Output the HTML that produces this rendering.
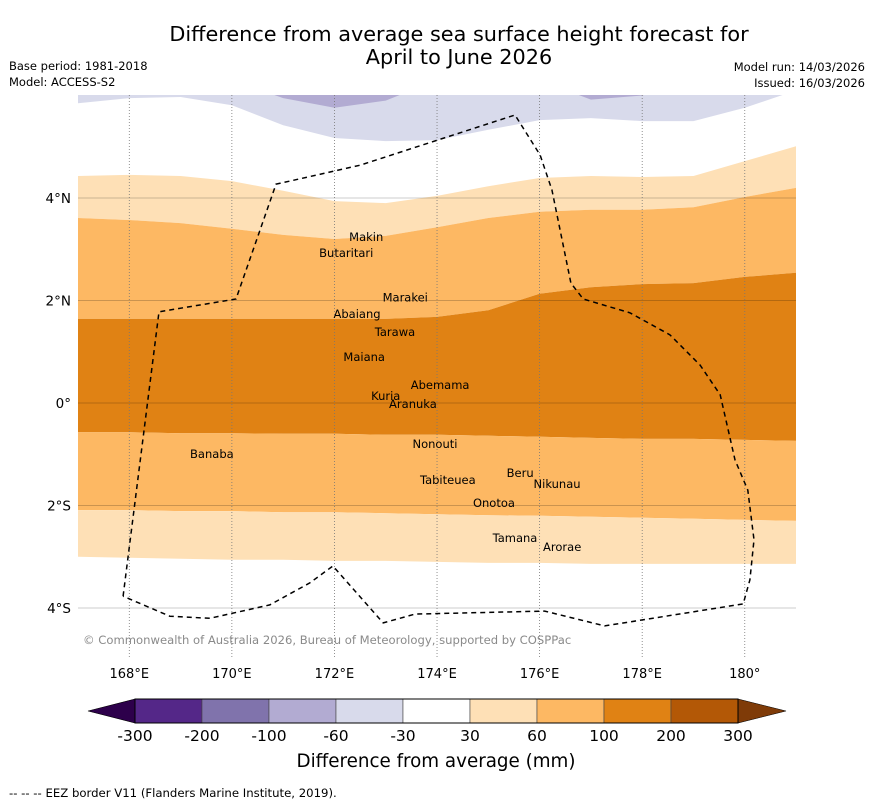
<!DOCTYPE html>
<html><head><meta charset="utf-8">
<style>
body{margin:0;background:#fff;}
svg{display:block;font-family:"DejaVu Sans","Liberation Sans",sans-serif;}
</style></head>
<body>
<svg id="chart" width="873" height="804" viewBox="0 0 873 804">
<text x="459" y="41" font-size="20.8" text-anchor="middle">Difference from average sea surface height forecast for</text>
<text x="459" y="64" font-size="20.8" text-anchor="middle">April to June 2026</text>
<text x="9" y="70" font-size="11.5">Base period: 1981-2018</text>
<text x="9" y="86" font-size="11.5">Model: ACCESS-S2</text>
<text x="865" y="71" font-size="11.5" text-anchor="end">Model run: 14/03/2026</text>
<text x="865" y="87" font-size="11.5" text-anchor="end">Issued: 16/03/2026</text>
<defs><clipPath id="mapclip"><rect x="78" y="95" width="718" height="562"/></clipPath></defs>
<g id="map" clip-path="url(#mapclip)"></g>
<g id="axes"></g>
<text x="83" y="644" font-size="11.6" fill="#8a8a8a">© Commonwealth of Australia 2026, Bureau of Meteorology, supported by COSPPac</text>
<g id="cbar"></g>
<text x="436" y="767" font-size="18.3" text-anchor="middle">Difference from average (mm)</text>
<text x="9" y="797" font-size="11.7">--  --  -- EEZ border V11 (Flanders Marine Institute, 2019).</text>
</svg>
<script>
// ---- data ----
const lons = [167,168,169,170,171,172,173,174,175,176,177,178,179,180,181];
const bPurple   = [6.3,6.3,6.3,6.3,5.95,5.76,5.9,6.3,6.3,6.3,5.92,6.0,6.3,6.3,6.3];
const bLavender = [5.85,5.95,5.97,5.81,5.42,5.17,5.11,5.13,5.33,5.52,5.56,5.50,5.50,5.76,6.1];
const b30  = [4.43,4.45,4.43,4.33,4.14,3.94,3.90,4.04,4.23,4.39,4.43,4.41,4.43,4.72,5.01];
const b60  = [3.61,3.57,3.51,3.40,3.28,3.20,3.26,3.43,3.61,3.73,3.77,3.77,3.82,4.02,4.20];
const b100 = [1.64,1.64,1.64,1.64,1.64,1.64,1.64,1.68,1.81,2.13,2.26,2.32,2.34,2.46,2.54];
const b100s= [-0.57,-0.57,-0.59,-0.59,-0.60,-0.60,-0.62,-0.62,-0.64,-0.66,-0.68,-0.70,-0.70,-0.72,-0.74];
const b60s = [-2.09,-2.09,-2.11,-2.11,-2.13,-2.13,-2.15,-2.17,-2.19,-2.20,-2.22,-2.24,-2.26,-2.28,-2.30];
const b30s = [-3.00,-3.02,-3.04,-3.06,-3.06,-3.08,-3.08,-3.10,-3.12,-3.12,-3.14,-3.14,-3.14,-3.14,-3.14];
const lonTicks = [168,170,172,174,176,178,180];
const lonTickLabels = ["168°E","170°E","172°E","174°E","176°E","178°E","180°"];
const latTicks = [4,2,0,-2,-4];
const latTickLabels = ["4°N","2°N","0°","2°S","4°S"];
const eezLon = [167.88,168.58,170.08,170.86,172.50,175.52,176.01,176.24,176.61,176.85,177.76,178.54,179.13,179.52,179.81,180.06,180.18,180.10,179.97,177.27,176.10,173.57,172.95,171.97,171.52,170.74,169.57,168.79,167.88];
const eezLat = [-3.77,1.78,2.03,4.27,4.64,5.62,4.84,4.16,2.34,2.03,1.76,1.33,0.74,0.16,-1.11,-1.70,-2.67,-3.45,-3.92,-4.35,-4.06,-4.12,-4.29,-3.18,-3.51,-3.94,-4.20,-4.16,-3.77];
const islandNames = ["Makin","Butaritari","Marakei","Abaiang","Tarawa","Maiana","Abemama","Kuria","Aranuka","Nonouti","Tabiteuea","Beru","Nikunau","Onotoa","Tamana","Arorae","Banaba"];
const islandLon = [172.62,172.23,173.38,172.44,173.18,172.58,174.06,173.00,173.53,173.96,174.21,175.62,176.34,175.11,175.52,176.44,169.61];
const islandLat = [3.16,2.85,1.98,1.66,1.31,0.82,0.27,0.06,-0.10,-0.88,-1.58,-1.44,-1.66,-2.03,-2.71,-2.89,-1.07];
const cbLevels = ["-300","-200","-100","-60","-30","30","60","100","200","300"];
const cbColors = ["#542788","#8073ac","#b2abd2","#d8daeb","#ffffff","#fee0b6","#fdb863","#e08214","#b35806"];

// ---- scales ----
const X = lon => 78 + (lon-167)*51.29;
const Y = lat => 403 - lat*51.25;
const NS='http://www.w3.org/2000/svg';
function mk(tag, attrs, parent){const e=document.createElementNS(NS,tag);for(const k in attrs)e.setAttribute(k,attrs[k]);parent.appendChild(e);return e;}
const map=document.getElementById('map'), axes=document.getElementById('axes');
function line(arr){return lons.map((l,i)=>X(l).toFixed(1)+','+Y(arr[i]).toFixed(1));}
function band(top,bot,color,name){
  const pts=line(top).concat(line(bot).reverse());
  const p=mk('polygon',{points:pts.join(' '),fill:color},map);
  
  
}
const topArr=lons.map(()=>7);
band(topArr,bLavender,"#d8daeb","band-neg60-neg30");
band(topArr,bPurple,"#b2abd2","band-neg100-neg60");
band(b30,b60,"#fee0b6","band-30-60-north");
band(b60,b100,"#fdb863","band-60-100-north");
band(b100,b100s,"#e08214","band-100-200");
band(b100s,b60s,"#fdb863","band-60-100-south");
band(b60s,b30s,"#fee0b6","band-30-60-south");
// gridlines
latTicks.forEach((t,i)=>{
  const g=mk('line',{x1:78,x2:796,y1:Y(t),y2:Y(t),stroke:'#000','stroke-opacity':0.2,'stroke-width':1},map);
  
  
  const tx=mk('text',{x:71,y:Y(t)+5,'font-size':13.5,'text-anchor':'end'},axes);
  tx.textContent=latTickLabels[i];
  
  
});
lonTicks.forEach((t,i)=>{
  const g=mk('line',{x1:X(t),x2:X(t),y1:95,y2:657,stroke:'#777','stroke-width':0.8,'stroke-dasharray':'1,2'},map);
  
  
  const tx=mk('text',{x:X(t),y:678,'font-size':13,'text-anchor':'middle'},axes);
  tx.textContent=lonTickLabels[i];
  
  
});
// EEZ
const eez=mk('polyline',{points:eezLon.map((l,i)=>X(l).toFixed(1)+','+Y(eezLat[i]).toFixed(1)).join(' '),fill:'none',stroke:'#000','stroke-width':1.5,'stroke-dasharray':'5,4'},map);


// islands
islandNames.forEach((n,i)=>{
  const tx=mk('text',{x:X(islandLon[i]),y:Y(islandLat[i]),'font-size':11.5,'text-anchor':'middle'},map);
  tx.textContent=n;
  
  
});
// colorbar
const cb=document.getElementById('cbar');
const cx0=135, cw=67, cy=699, ch=24;
cbColors.forEach((c,i)=>{
  const r=mk('rect',{x:cx0+i*cw,y:cy,width:cw,height:ch,fill:c,stroke:'#444','stroke-width':0.6},cb);
  
  
});
const lt=mk('polygon',{points:`${cx0},${cy} 88,${cy+ch/2} ${cx0},${cy+ch}`,fill:'#2d004b',stroke:'#000','stroke-width':0.6},cb);


const rt=mk('polygon',{points:`${cx0+9*cw},${cy} 786,${cy+ch/2} ${cx0+9*cw},${cy+ch}`,fill:'#7f3b08',stroke:'#000','stroke-width':0.6},cb);


mk('rect',{x:cx0,y:cy,width:9*cw,height:ch,fill:'none',stroke:'#000','stroke-width':1},cb);
cbLevels.forEach((l,i)=>{
  const tx=mk('text',{x:cx0+i*cw,y:741,'font-size':15.5,'text-anchor':'middle'},cb);
  tx.textContent=l;
  
  
});
</script>
</body></html>
